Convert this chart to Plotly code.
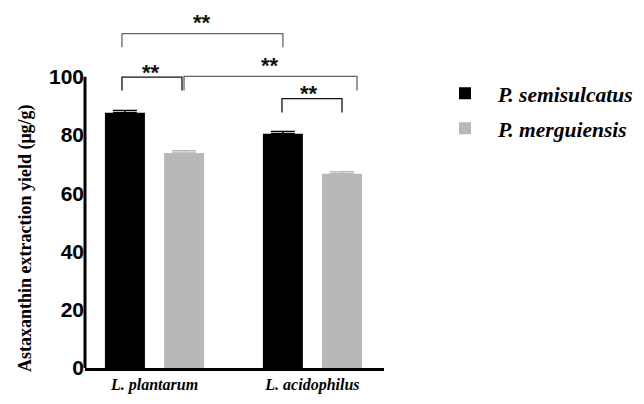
import plotly.graph_objects as go

categories = ["L. plantarum", "L. acidophilus"]
series_names = ["P. semisulcatus", "P. merguiensis"]
semisulcatus = [87.6, 80.4]
semisulcatus_err = [0.8, 0.8]
merguiensis = [73.8, 66.7]
merguiensis_err = [0.8, 0.7]
y_ticks = [0, 20, 40, 60, 80, 100]
# significance brackets: (x_left, x_right, top, leg_bottom, label_x, label_y, colour)
brackets = [
    (-0.206, 0.174, 99.9, 95.3, -0.022, 101.5, "#111111"),
    (0.187, 1.282, 100.1, 95.3, 0.731, 104.0, "#666666"),
    (0.807, 1.187, 92.5, 87.7, 0.978, 94.3, "#111111"),
    (-0.206, 0.813, 114.8, 110.1, 0.300, 118.7, "#666666"),
]
sig_label = "**"

colors = ["#000000", "#b8b8b8"]

fig = go.Figure()
for name, vals, errs, col in [
    (series_names[0], semisulcatus, semisulcatus_err, colors[0]),
    (series_names[1], merguiensis, merguiensis_err, colors[1]),
]:
    fig.add_trace(go.Bar(
        x=categories, y=vals, name="<b><i>" + name + "</i></b>",
        marker=dict(color=col, line=dict(width=0)),
        error_y=dict(type="data", array=errs, arrayminus=[0] * len(errs), symmetric=False,
                     color=col, thickness=1.5, width=12),
        legendgroup=name,
    ))

shapes = []
annotations = []
for xl, xr, top, bot, lx, ly, col in brackets:
    shapes.append(dict(type="path", xref="x", yref="y",
                       path=f"M {xl},{bot} L {xl},{top} L {xr},{top} L {xr},{bot}",
                       line=dict(color=col, width=1.3)))
    annotations.append(dict(x=lx, y=ly, xref="x", yref="y", text="<b>" + sig_label + "</b>",
                            showarrow=False, font=dict(family="Liberation Sans", size=22, color="#111111"),
                            xanchor="center", yanchor="middle"))
# y axis line only over the 0-100 range
shapes.append(dict(type="line", xref="paper", yref="y", x0=0, x1=0, y0=-1, y1=100,
                   line=dict(color="black", width=3)))
annotations.append(dict(x=-0.2007, y=44.6, xref="paper", yref="y", textangle=-90,
                        text="<b>Astaxanthin extraction yield (μg/g)</b>", showarrow=False,
                        font=dict(family="Liberation Serif", size=18, color="black"),
                        xanchor="center", yanchor="middle"))

fig.update_layout(
    width=644, height=404,
    margin=dict(l=77, r=268, t=0, b=44, autoexpand=False),
    plot_bgcolor="white", paper_bgcolor="white",
    barmode="group", bargap=0.251, bargroupgap=0.324,
    shapes=shapes, annotations=annotations,
    legend=dict(x=1.1605, y=0.82, xanchor="left", yanchor="top",
                font=dict(family="Liberation Serif", size=21.5, color="black"),
                tracegroupgap=4, traceorder="grouped", itemwidth=56),
    xaxis=dict(range=[-0.44, 1.453], showline=True, linecolor="black", linewidth=3,
               ticks="", tickvals=[0, 1], automargin=False,
               ticktext=["<b><i>" + c + "</i></b>" for c in categories],
               tickfont=dict(family="Liberation Serif", size=16, color="black"),
               showgrid=False, zeroline=False),
    yaxis=dict(range=[0, 123.6], tickvals=y_ticks, ticks="", showline=False, automargin=False,
               tickfont=dict(family="Liberation Sans", size=21, color="black", weight="bold"),
               showgrid=False, zeroline=False),
    showlegend=True,
)

fig.write_html("out.html")
